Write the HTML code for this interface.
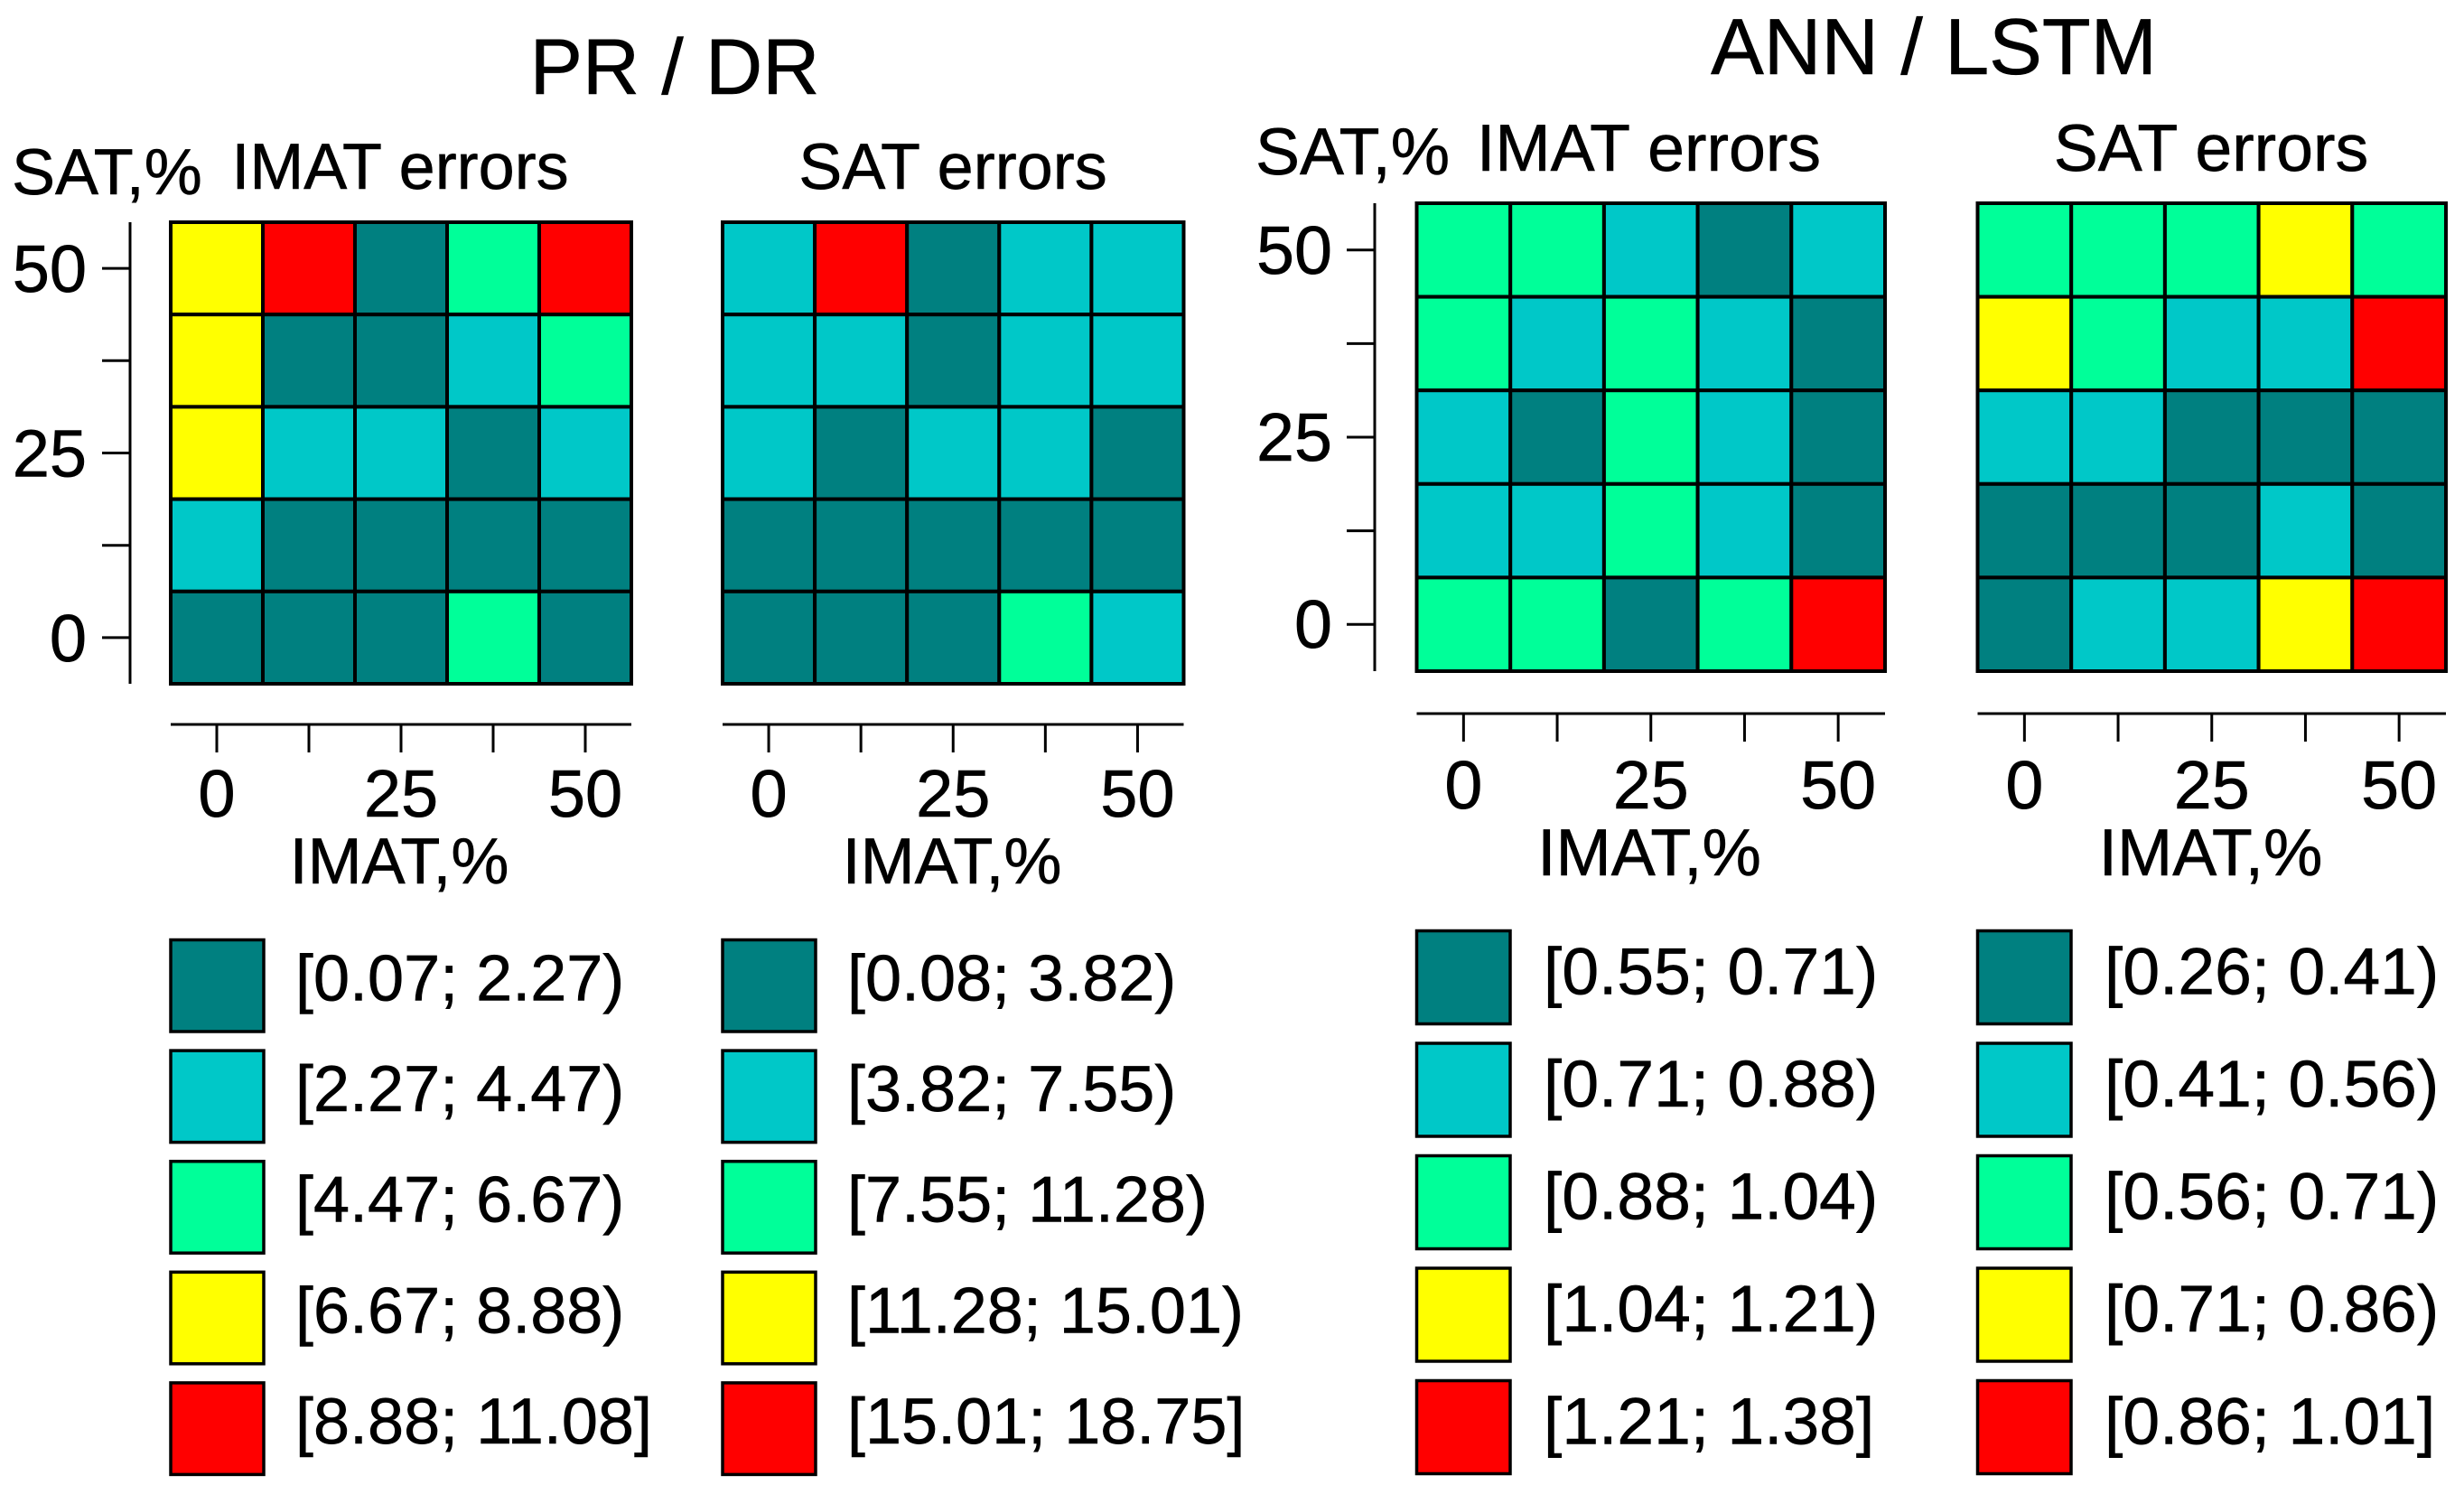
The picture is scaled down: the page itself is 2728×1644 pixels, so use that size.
<!DOCTYPE html>
<html lang="en">
<head>
<meta charset="utf-8">
<title>PR / DR and ANN / LSTM error heatmaps</title>
<style>
html,body{margin:0;padding:0;background:#fff;width:2728px;height:1644px;overflow:hidden}
svg{display:block}
text{font-family:"Liberation Sans",Arial,sans-serif;fill:#000;stroke:#000;stroke-width:0.6px;text-rendering:geometricPrecision}
</style>
</head>
<body>
<svg id="chart" xmlns="http://www.w3.org/2000/svg" width="2728" height="1644" viewBox="0 0 2728 1644">
  <rect x="0" y="0" width="2728" height="1644" fill="#fff"/>
  <text x="747" y="104" font-size="87.5" text-anchor="middle">PR / DR</text>
  <text x="2141" y="82" font-size="88" text-anchor="middle">ANN / LSTM</text>
</svg>
<script>
// Axis categories (percent levels) and tick labels
const imatLevels = [0, 12.5, 25, 37.5, 50];
const satLevels = [50, 37.5, 25, 12.5, 0];
const tickValues = [0, 12.5, 25, 37.5, 50];
const tickLabels = ["0", "", "25", "", "50"];

// Bin colours, lowest to highest error class
const binColors = ["#008080", "#00C8C8", "#00FF99", "#FFFF00", "#FF0000"];

// Error-class index per cell; rows follow satLevels, columns follow imatLevels
const prDrImatBins = [
  [3, 4, 0, 2, 4],
  [3, 0, 0, 1, 2],
  [3, 1, 1, 0, 1],
  [1, 0, 0, 0, 0],
  [0, 0, 0, 2, 0]
];
const prDrSatBins = [
  [1, 4, 0, 1, 1],
  [1, 1, 0, 1, 1],
  [1, 0, 1, 1, 0],
  [0, 0, 0, 0, 0],
  [0, 0, 0, 2, 1]
];
const annLstmImatBins = [
  [2, 2, 1, 0, 1],
  [2, 1, 2, 1, 0],
  [1, 0, 2, 1, 0],
  [1, 1, 2, 1, 0],
  [2, 2, 0, 2, 4]
];
const annLstmSatBins = [
  [2, 2, 2, 3, 2],
  [3, 2, 1, 1, 4],
  [1, 1, 0, 0, 0],
  [0, 0, 0, 1, 0],
  [0, 1, 1, 3, 4]
];

// Legend labels
const prDrImatLegend = ["[0.07; 2.27)", "[2.27; 4.47)", "[4.47; 6.67)", "[6.67; 8.88)", "[8.88; 11.08]"];
const prDrSatLegend = ["[0.08; 3.82)", "[3.82; 7.55)", "[7.55; 11.28)", "[11.28; 15.01)", "[15.01; 18.75]"];
const annLstmImatLegend = ["[0.55; 0.71)", "[0.71; 0.88)", "[0.88; 1.04)", "[1.04; 1.21)", "[1.21; 1.38]"];
const annLstmSatLegend = ["[0.26; 0.41)", "[0.41; 0.56)", "[0.56; 0.71)", "[0.71; 0.86)", "[0.86; 1.01]"];

const svg = document.getElementById('chart');
const NS = 'http://www.w3.org/2000/svg';

function make(tag, attrs, name, text) {
  const el = document.createElementNS(NS, tag);
  for (const k in attrs) el.setAttribute(k, attrs[k]);
  
  
  if (text !== undefined) el.textContent = text;
  svg.appendChild(el);
  return el;
}

function makeScale(start, end, reversed) {
  // Domain spans half a cell beyond 0 and 50, matching an image plot
  return function (v) {
    const t = (v + 6.25) / 62.5;
    return reversed ? end - t * (end - start) : start + t * (end - start);
  };
}

function drawPanel(p) {
  const xScale = makeScale(p.x0, p.x1, false);
  const yScale = makeScale(p.y0, p.y1, true);
  const cw = (p.x1 - p.x0) / imatLevels.length;
  const ch = (p.y1 - p.y0) / satLevels.length;

  satLevels.forEach(function (sat, r) {
    imatLevels.forEach(function (imat, c) {
      make('rect', {
        x: xScale(imat) - cw / 2, y: yScale(sat) - ch / 2, width: cw, height: ch,
        fill: binColors[p.bins[r][c]], stroke: '#000', 'stroke-width': 4
      }, p.id + '-cell-sat' + sat + '-imat' + imat);
    });
  });

  // X axis
  make('line', { x1: xScale(tickValues[0]) - cw / 2, x2: xScale(tickValues[4]) + cw / 2, y1: p.xAxisY, y2: p.xAxisY, stroke: '#000', 'stroke-width': 3 }, p.id + '-x-axis-line');
  tickValues.forEach(function (v, i) {
    make('line', { x1: xScale(v), x2: xScale(v), y1: p.xAxisY, y2: p.xAxisY + 31, stroke: '#000', 'stroke-width': 3 }, p.id + '-x-tick-' + v);
    if (tickLabels[i]) {
      make('text', { x: xScale(v), y: p.xTickBase, 'font-size': p.tickFs, 'text-anchor': 'middle' }, p.id + '-x-tick-label-' + v, tickLabels[i]);
    }
  });
  make('text', { x: p.xTitleX, y: p.xTitleBase, 'font-size': p.fs, 'text-anchor': 'middle' }, p.id + '-x-axis-title', 'IMAT,%');

  // Panel title
  make('text', { x: p.titleX, y: p.titleBase, 'font-size': p.fs, 'text-anchor': 'middle' }, p.id + '-panel-title', p.title);

  // Y axis only on the first panel of each group
  if (p.yAxis) {
    const a = p.yAxis;
    make('line', { x1: a.x, x2: a.x, y1: p.y0, y2: p.y1, stroke: '#000', 'stroke-width': 3 }, p.id + '-y-axis-line');
    tickValues.forEach(function (v, i) {
      make('line', { x1: a.x - 31, x2: a.x, y1: yScale(v), y2: yScale(v), stroke: '#000', 'stroke-width': 3 }, p.id + '-y-tick-' + v);
      if (tickLabels[i]) {
        make('text', { x: a.labelX, y: yScale(v) + 26, 'font-size': p.tickFs, 'text-anchor': 'end' }, p.id + '-y-tick-label-' + v, tickLabels[i]);
      }
    });
    make('text', { x: a.titleX, y: a.titleBase, 'font-size': p.fs }, p.id + '-y-axis-title', 'SAT,%');
  }

  // Legend
  p.legend.forEach(function (label, i) {
    const sy = p.legTop + i * p.legPitch;
    make('rect', { x: p.x0, y: sy, width: p.legW, height: p.legH, fill: binColors[i], stroke: '#000', 'stroke-width': 3.5 }, p.id + '-legend-swatch-' + i);
    make('text', { x: p.legTextX, y: sy + p.legBaseOff, 'font-size': p.legFs }, p.id + '-legend-label-' + i, label);
  });
}

drawPanel({
  id: 'pr-dr-imat', title: 'IMAT errors', bins: prDrImatBins, legend: prDrImatLegend,
  x0: 189, x1: 699, y0: 246, y1: 757, xAxisY: 802, xTickBase: 904, xTitleBase: 978,
  xTitleX: 442, titleX: 443, titleBase: 209, fs: 72, tickFs: 74,
  yAxis: { x: 144, labelX: 96, titleX: 13, titleBase: 215 },
  legTop: 1040.5, legPitch: 122.6, legW: 103, legH: 101.5, legTextX: 327, legBaseOff: 67, legFs: 72
});
drawPanel({
  id: 'pr-dr-sat', title: 'SAT errors', bins: prDrSatBins, legend: prDrSatLegend,
  x0: 800, x1: 1310.5, y0: 246, y1: 757, xAxisY: 802, xTickBase: 904, xTitleBase: 978,
  xTitleX: 1054, titleX: 1055, titleBase: 209, fs: 72, tickFs: 74,
  legTop: 1040.5, legPitch: 122.6, legW: 103, legH: 101.5, legTextX: 938, legBaseOff: 67, legFs: 72
});
drawPanel({
  id: 'ann-lstm-imat', title: 'IMAT errors', bins: annLstmImatBins, legend: annLstmImatLegend,
  x0: 1568.5, x1: 2087, y0: 225, y1: 743, xAxisY: 790, xTickBase: 895, xTitleBase: 969,
  xTitleX: 1826, titleX: 1825.5, titleBase: 189, fs: 73.5, tickFs: 75.5,
  yAxis: { x: 1522, labelX: 1475, titleX: 1390, titleBase: 193 },
  legTop: 1030.5, legPitch: 124.5, legW: 103.5, legH: 103, legTextX: 1709, legBaseOff: 70, legFs: 73.2
});
drawPanel({
  id: 'ann-lstm-sat', title: 'SAT errors', bins: annLstmSatBins, legend: annLstmSatLegend,
  x0: 2189.5, x1: 2708, y0: 225, y1: 743, xAxisY: 790, xTickBase: 895, xTitleBase: 969,
  xTitleX: 2447.5, titleX: 2448, titleBase: 189, fs: 73.5, tickFs: 75.5,
  legTop: 1030.5, legPitch: 124.5, legW: 103.5, legH: 103, legTextX: 2330, legBaseOff: 70, legFs: 73.2
});
</script>
</body>
</html>
